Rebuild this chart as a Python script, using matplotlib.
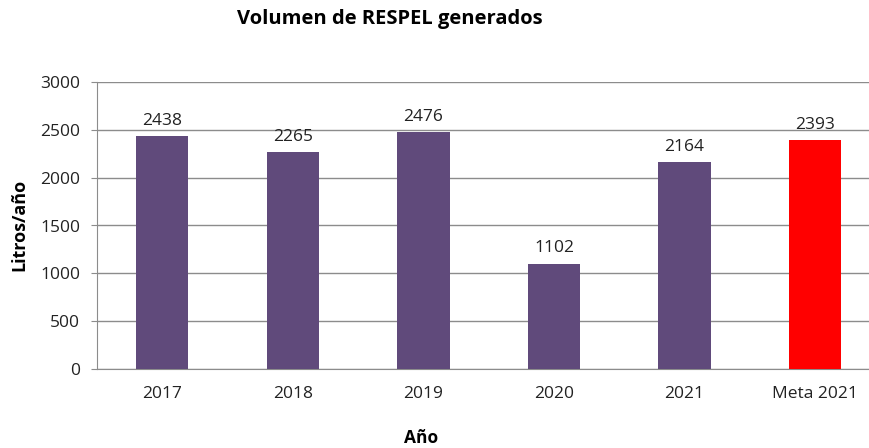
import matplotlib
matplotlib.use("Agg")
import matplotlib.pyplot as plt

# Datos del gráfico
categorias = ["2017", "2018", "2019", "2020", "2021", "Meta 2021"]
volumen = [2438, 2265, 2476, 1102, 2164, 2393]
colores = ["#604A7B"] * 5 + ["#FF0000"]

plt.rcParams['font.family'] = ['Open Sans', 'DejaVu Sans']

fig = plt.figure(figsize=(8.7, 4.48), dpi=100)
ax = fig.add_axes([97 / 870, 1 - 369 / 448, 773 / 870, (369 - 82) / 448])

x = range(len(categorias))
ax.bar(x, volumen, width=0.4, color=colores, zorder=3)

for i, v in enumerate(volumen):
    ax.text(i, v + 75, str(v), ha='center', va='bottom', fontsize=12.5, color='#222222')

ax.set_ylim(0, 3000)
ax.set_xlim(-0.5, 5.42)
ax.set_yticks(range(0, 3001, 500))
ax.set_xticks(list(x))
ax.set_xticklabels(categorias)
ax.yaxis.grid(True, color='#8c8c8c', linewidth=1, zorder=0)

for s in ['top', 'right']:
    ax.spines[s].set_visible(False)
ax.spines['left'].set_color('#8c8c8c')
ax.spines['bottom'].set_color('#8c8c8c')

ax.tick_params(axis='y', length=4, color='#8c8c8c', labelsize=12.5, labelcolor='#222222', pad=8)
ax.tick_params(axis='x', length=0, labelsize=12.5, labelcolor='#222222', pad=12)

fig.text(19 / 870, 1 - 225 / 448, 'Litros/año', rotation=90, ha='center', va='center',
         fontsize=13, fontweight='bold')
fig.text(421 / 870, 1 - 438 / 448, 'Año', ha='center', va='center',
         fontsize=12.5, fontweight='bold')
fig.text(390 / 870, 1 - 19 / 448, 'Volumen de RESPEL generados', ha='center', va='center',
         fontsize=14.5, fontweight='bold')

fig.savefig('out.png', dpi=100)
